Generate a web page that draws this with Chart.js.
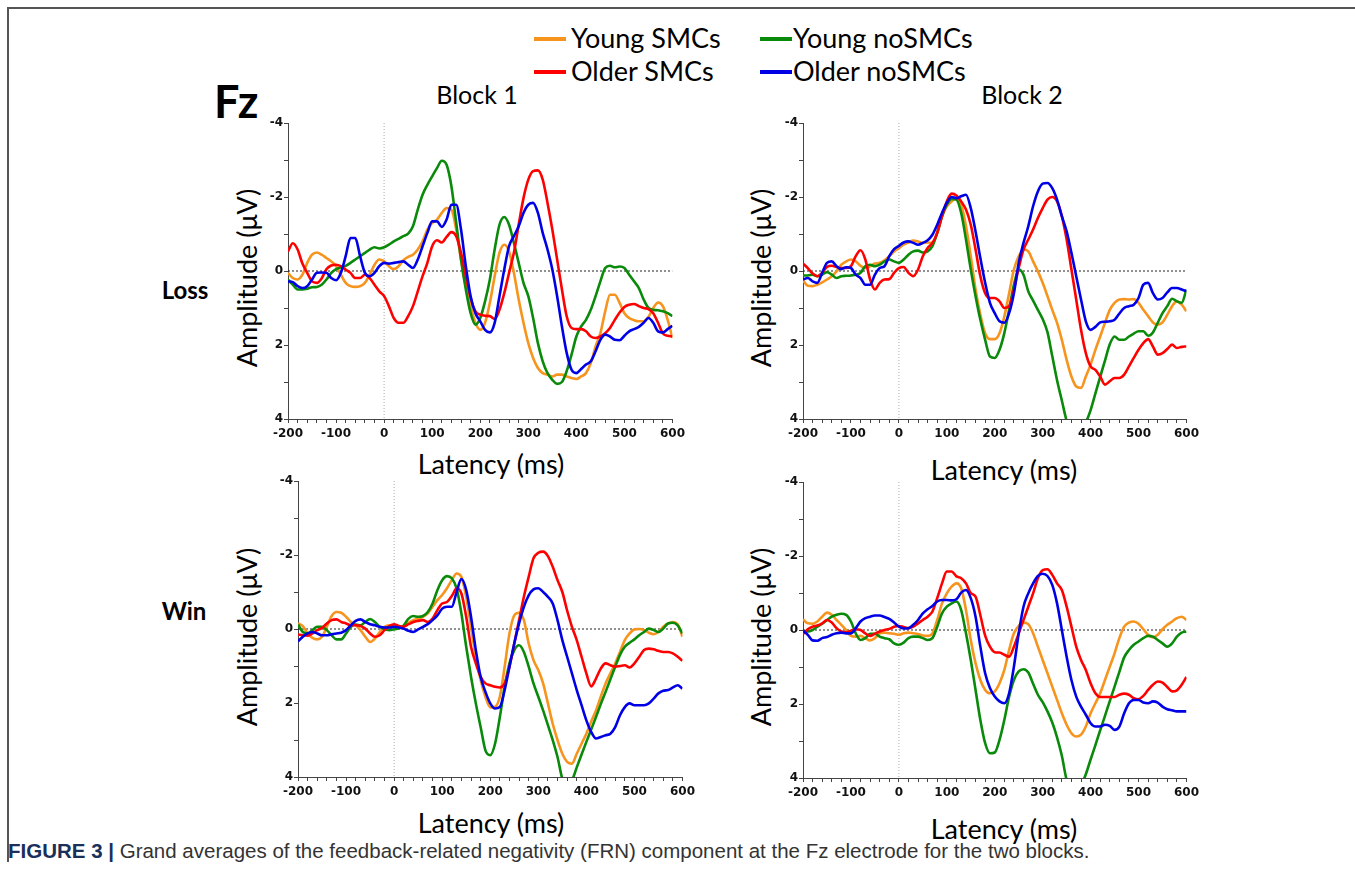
<!DOCTYPE html>
<html><head><meta charset="utf-8">
<script src="https://cdn.jsdelivr.net/npm/chart.js@4.4.1/dist/chart.umd.min.js"></script>
<style>
html,body{margin:0;padding:0;background:#fff;}
body{width:1355px;height:895px;position:relative;overflow:hidden;font-family:Lato,"Open Sans",sans-serif;color:#000;}
.t{position:absolute;white-space:nowrap;line-height:1;transform:translate(-50%,-50%);}
.l{position:absolute;white-space:nowrap;line-height:1;transform:translate(0,-50%);}
.rot{position:absolute;white-space:nowrap;line-height:1;transform:translate(-50%,-50%) rotate(-90deg);font-size:27px;}
.lat{font-size:27px;}
.sw{position:absolute;height:4px;width:32px;}
canvas{position:absolute;}
#frameL{position:absolute;left:7px;top:7px;width:2px;height:855px;background:#555;}
#frameT{position:absolute;left:7px;top:7px;width:1348px;height:2px;background:#555;}
#cap{position:absolute;left:8px;top:851px;transform:translate(0,-50%);font-family:"Liberation Sans Narrow","Liberation Sans",sans-serif;font-size:20.5px;color:#333;white-space:nowrap;line-height:1;}
#cap b{color:#1a2f5a;}
</style></head>
<body>
<div id="frameL"></div><div id="frameT"></div>

<div class="sw" style="left:534px;top:37px;background:#F7941D"></div>
<div class="l" style="left:571px;top:37px;font-size:27px">Young SMCs</div>
<div class="sw" style="left:760px;top:37px;background:#0A8A0A"></div>
<div class="l" style="left:793px;top:37px;font-size:27px">Young noSMCs</div>
<div class="sw" style="left:534px;top:70px;background:#FF0000"></div>
<div class="l" style="left:571px;top:70px;font-size:27px">Older SMCs</div>
<div class="sw" style="left:760px;top:70px;background:#0000E6"></div>
<div class="l" style="left:793px;top:70px;font-size:27px">Older noSMCs</div>

<div class="l" style="left:214px;top:101px;font-size:45px;font-weight:bold">Fz</div>
<div class="t" style="left:477px;top:94px;font-size:25px">Block 1</div>
<div class="t" style="left:1022px;top:94px;font-size:25px">Block 2</div>
<div class="t" style="left:185px;top:290px;font-size:24px;font-weight:bold">Loss</div>
<div class="t" style="left:184px;top:611px;font-size:24px;font-weight:bold">Win</div>

<div class="rot" style="left:246px;top:278px">Amplitude (μV)</div>
<div class="rot" style="left:760px;top:278px">Amplitude (μV)</div>
<div class="rot" style="left:246px;top:637px">Amplitude (μV)</div>
<div class="rot" style="left:760px;top:637px">Amplitude (μV)</div>
<div class="t lat" style="left:491px;top:463px">Latency (ms)</div>
<div class="t lat" style="left:1004px;top:469px">Latency (ms)</div>
<div class="t lat" style="left:491px;top:822px">Latency (ms)</div>
<div class="t lat" style="left:1004px;top:828px">Latency (ms)</div>

<div id="cap"><b>FIGURE 3 |</b> Grand averages of the feedback-related negativity (FRN) component at the Fz electrode for the two blocks.</div>

<canvas id="c1" width="446" height="330" style="left:243px;top:113px"></canvas>
<canvas id="c2" width="445" height="330" style="left:758px;top:113px"></canvas>
<canvas id="c3" width="446" height="330" style="left:253px;top:471px"></canvas>
<canvas id="c4" width="445" height="330" style="left:758px;top:472px"></canvas>

<script>
// ---- data ----
const latency = [-200,-190,-180,-170,-160,-150,-140,-130,-120,-110,
 -100,-90,-80,-70,-60,-50,-40,-30,-20,-10,
 0,10,20,30,40,50,60,70,80,90,
 100,110,120,130,140,150,160,170,180,190,
 200,210,220,230,240,250,260,270,280,290,
 300,310,320,330,340,350,360,370,380,390,
 400,410,420,430,440,450,460,470,480,490,
 500,510,520,530,540,550,560,570,580,590,
 600];
const seriesNames = ["Young SMCs","Older SMCs","Young noSMCs","Older noSMCs"];
const yTickLabels = [-4,-2,0,2,4];
const xTickLabels = [-200,-100,0,100,200,300,400,500,600];

// Loss, Block 1
const lossB1Young = [0.05,0.19,0.23,0.1,-0.22,-0.44,-0.5,-0.44,-0.35,-0.26,
 -0.13,0.1,0.32,0.41,0.43,0.41,0.32,0.1,-0.17,-0.31,
 -0.26,-0.13,-0.05,-0.13,-0.29,-0.38,-0.44,-0.58,-0.8,-1.12,
 -1.3,-1.39,-1.57,-1.7,-1.66,-1.12,-0.31,0.41,0.95,1.4,
 1.59,1.4,0.86,0.14,-0.49,-0.71,-0.53,0.05,0.77,1.4,
 1.95,2.35,2.62,2.76,2.8,2.85,2.8,2.8,2.85,2.89,
 2.92,2.85,2.76,2.49,2.04,1.68,1.09,0.64,0.64,0.86,
 1.14,1.27,1.33,1.36,1.36,1.24,1.0,0.85,0.95,1.32,
 1.81];
const lossB1Older = [-0.53,-0.75,-0.58,-0.2,0.05,0.28,0.32,0.2,-0.05,-0.15,
 -0.17,-0.13,-0.04,0.05,0.19,0.19,0.1,0.19,0.37,0.55,
 0.68,0.95,1.27,1.4,1.4,1.22,0.95,0.55,0.14,-0.22,
 -0.67,-0.83,-0.77,-0.92,-1.05,-0.94,-0.49,0.14,0.73,1.09,
 1.18,1.21,1.22,1.3,1.05,0.6,0.05,-0.49,-1.25,-1.97,
 -2.47,-2.7,-2.72,-2.47,-1.84,-1.12,-0.31,0.5,1.23,1.54,
 1.57,1.57,1.63,1.77,1.81,1.77,1.68,1.54,1.32,1.12,
 0.97,0.91,0.89,0.95,1.0,1.03,1.14,1.4,1.69,1.75,
 1.77];
const lossB1YoungNo = [0.23,0.37,0.5,0.5,0.48,0.44,0.43,0.37,0.23,0.05,
 -0.05,-0.1,-0.14,-0.22,-0.31,-0.4,-0.49,-0.58,-0.64,-0.61,
 -0.64,-0.71,-0.8,-0.87,-0.94,-1.01,-1.21,-1.66,-2.06,-2.33,
 -2.56,-2.78,-2.98,-2.87,-2.29,-1.3,-0.31,0.5,1.14,1.45,
 1.27,0.82,0.23,-0.58,-1.25,-1.46,-1.25,-0.76,-0.22,0.32,
 0.68,1.27,1.95,2.44,2.76,2.94,3.05,3.0,2.7,2.26,
 1.77,1.5,1.32,1.05,0.68,0.28,-0.08,-0.14,-0.1,-0.12,
 -0.08,0.1,0.28,0.46,0.77,1.0,1.05,1.06,1.09,1.14,
 1.22];
const lossB1OlderNo = [0.28,0.3,0.41,0.46,0.41,0.23,0.05,0.04,0.05,0.19,
 0.25,0.05,-0.4,-0.89,-0.89,-0.4,0.05,0.14,0.05,-0.13,
 -0.22,-0.2,-0.22,-0.24,-0.26,-0.17,-0.08,-0.31,-0.67,-1.03,
 -1.34,-1.34,-1.19,-1.39,-1.79,-1.79,-1.12,-0.13,0.68,1.14,
 1.36,1.59,1.66,1.4,0.68,-0.04,-0.67,-0.94,-1.21,-1.57,
 -1.79,-1.84,-1.57,-1.03,-0.58,-0.04,0.68,1.5,2.22,2.67,
 2.76,2.65,2.53,2.44,2.17,1.86,1.72,1.77,1.86,1.87,
 1.75,1.63,1.57,1.51,1.4,1.27,1.4,1.63,1.66,1.57,
 1.48];

// Loss, Block 2
const lossB2Young = [0.25,0.4,0.41,0.37,0.31,0.23,0.14,0.01,-0.17,-0.26,
 -0.31,-0.26,-0.14,-0.08,-0.13,-0.2,-0.22,-0.29,-0.4,-0.53,
 -0.62,-0.71,-0.77,-0.82,-0.8,-0.76,-0.77,-0.76,-1.03,-1.48,
 -1.75,-1.88,-1.97,-1.79,-1.21,-0.4,0.5,1.18,1.68,1.84,
 1.84,1.68,1.23,0.6,-0.04,-0.4,-0.58,-0.53,-0.26,0.01,
 0.32,0.68,1.05,1.4,1.86,2.4,2.85,3.12,3.16,2.85,
 2.53,2.13,1.77,1.4,1.05,0.86,0.77,0.76,0.77,0.76,
 0.86,1.05,1.22,1.39,1.45,1.39,1.18,0.95,0.82,0.91,
 1.09];
const lossB2Older = [-0.2,-0.08,0.07,0.14,0.05,-0.11,-0.14,-0.11,-0.08,-0.08,
 -0.13,-0.4,-0.56,-0.31,0.23,0.5,0.32,0.23,0.22,0.05,
 -0.08,-0.11,0.05,0.14,-0.04,-0.4,-0.62,-0.76,-1.03,-1.48,
 -1.88,-2.09,-2.04,-1.88,-1.66,-1.25,-0.58,0.14,0.6,0.73,
 0.73,0.82,1.0,0.95,0.5,-0.08,-0.58,-0.85,-1.12,-1.43,
 -1.7,-1.93,-2.0,-1.88,-1.48,-0.85,-0.04,0.77,1.59,2.22,
 2.58,2.67,2.85,3.07,2.98,2.89,2.89,2.8,2.58,2.35,
 2.13,1.95,1.84,2.04,2.26,2.22,2.11,1.99,2.08,2.05,
 2.04];
const lossB2YoungNo = [0.12,0.12,0.1,0.14,0.1,0.03,0.1,0.19,0.14,0.13,
 0.12,0.1,0.05,-0.13,-0.17,-0.13,-0.17,-0.26,-0.31,-0.26,
 -0.22,-0.31,-0.44,-0.53,-0.55,-0.5,-0.53,-0.67,-1.03,-1.48,
 -1.79,-1.95,-1.93,-1.57,-0.85,-0.04,0.68,1.32,1.86,2.31,
 2.35,2.13,1.68,1.05,0.37,-0.04,0.1,0.55,0.8,1.05,
 1.3,1.65,2.3,2.95,3.5,4.05,4.35,4.45,4.35,4.1,
 3.76,3.31,2.86,2.42,1.98,1.77,1.86,1.86,1.77,1.69,
 1.63,1.63,1.75,1.66,1.4,1.14,0.95,0.75,0.82,0.86,
 0.5];
const lossB2OlderNo = [0.23,0.19,0.28,0.32,0.05,-0.22,-0.26,-0.13,-0.05,-0.1,
 -0.08,0.1,0.19,0.37,0.37,0.1,-0.08,-0.13,-0.4,-0.59,
 -0.68,-0.77,-0.8,-0.76,-0.71,-0.76,-0.83,-0.98,-1.25,-1.57,
 -1.84,-2.0,-1.97,-2.02,-2.06,-1.7,-1.07,-0.35,0.32,0.86,
 1.14,1.36,1.4,1.14,0.6,-0.22,-0.76,-1.21,-1.75,-2.15,
 -2.36,-2.38,-2.24,-1.93,-1.48,-1.07,-0.49,0.14,0.77,1.36,
 1.59,1.51,1.39,1.37,1.36,1.32,1.15,1.0,0.95,0.91,
 0.73,0.37,0.32,0.6,0.77,0.73,0.58,0.46,0.46,0.5,
 0.55];

// Win, Block 1
const winB1Young = [-0.15,-0.08,0.12,0.24,0.28,0.21,-0.06,-0.35,-0.46,-0.44,
 -0.33,-0.19,-0.1,0.03,0.21,0.35,0.26,0.08,-0.06,-0.1,
 -0.08,-0.04,-0.06,-0.17,-0.24,-0.28,-0.33,-0.42,-0.6,-0.78,
 -0.92,-1.1,-1.32,-1.5,-1.41,-0.87,-0.06,0.75,1.38,1.83,
 2.12,2.1,1.83,1.02,0.12,-0.37,-0.44,-0.24,0.39,0.84,
 1.11,1.47,2.01,2.56,3.0,3.37,3.59,3.64,3.37,3.1,
 2.83,2.5,2.2,1.83,1.47,1.2,0.93,0.62,0.3,0.12,
 0.01,0.0,0.03,0.1,0.14,0.08,-0.06,-0.15,-0.19,-0.13,
 0.21];
const winB1Older = [0.15,0.17,0.18,0.12,0.03,-0.03,-0.15,-0.24,-0.26,-0.19,
 -0.15,-0.1,-0.1,-0.08,-0.01,0.12,0.21,0.17,0.03,-0.08,
 -0.13,-0.08,-0.06,-0.13,-0.19,-0.22,-0.24,-0.19,-0.28,-0.51,
 -0.69,-0.73,-0.89,-1.1,-0.96,-0.33,0.48,0.93,1.29,1.47,
 1.52,1.56,1.58,1.47,1.02,0.39,-0.24,-0.87,-1.41,-1.91,
 -2.06,-2.09,-1.97,-1.68,-1.32,-1.0,-0.5,-0.06,0.3,0.75,
 1.2,1.55,1.34,1.07,0.93,0.98,1.02,1.0,0.98,1.04,
 0.93,0.75,0.57,0.53,0.55,0.59,0.62,0.62,0.66,0.75,
 0.86];
const winB1YoungNo = [-0.12,0.08,0.12,0.03,-0.06,-0.06,0.03,0.17,0.28,0.28,
 0.12,-0.06,-0.12,-0.1,-0.19,-0.27,-0.19,-0.06,0.01,0.03,
 0.01,-0.02,-0.1,-0.28,-0.35,-0.33,-0.35,-0.46,-0.69,-1.05,
 -1.32,-1.43,-1.37,-1.1,-0.42,0.48,1.29,2.01,2.65,3.28,
 3.41,3.1,2.38,1.56,0.93,0.57,0.44,0.62,1.02,1.47,
 1.83,2.2,2.6,3.0,3.46,4.05,4.3,4.1,3.74,3.39,
 3.05,2.72,2.38,2.03,1.7,1.36,1.02,0.7,0.48,0.37,
 0.28,0.17,0.08,-0.01,0.03,0.08,-0.01,-0.15,-0.17,-0.1,
 0.12];
const winB1OlderNo = [0.33,0.21,0.12,0.08,0.12,0.17,0.17,0.14,0.12,0.1,
 0.03,-0.1,-0.22,-0.26,-0.19,-0.13,-0.1,-0.06,-0.04,-0.04,
 -0.06,-0.04,-0.01,0.05,0.08,0.01,-0.06,-0.13,-0.24,-0.37,
 -0.55,-0.6,-0.6,-1.0,-1.35,-1.05,-0.33,0.57,1.29,1.7,
 2.01,2.15,2.11,1.65,1.02,0.39,-0.15,-0.6,-0.91,-1.07,
 -1.1,-1.0,-0.87,-0.69,-0.24,0.3,0.75,1.2,1.65,2.06,
 2.47,2.78,2.96,2.92,2.87,2.83,2.65,2.33,2.11,2.01,
 2.06,2.06,2.06,2.01,1.88,1.74,1.67,1.65,1.58,1.52,
 1.61];

// Win, Block 2
const winB2Young = [-0.29,-0.18,-0.17,-0.23,-0.36,-0.47,-0.41,-0.27,-0.14,0.0,
 0.16,0.18,0.16,0.22,0.28,0.22,0.09,0.07,0.09,0.1,
 0.13,0.09,0.07,0.09,0.11,0.15,0.16,0.09,-0.27,-0.72,
 -0.99,-1.17,-1.26,-1.13,-0.54,0.27,0.9,1.35,1.62,1.71,
 1.66,1.44,1.08,0.54,0.09,-0.11,-0.2,-0.16,0.09,0.45,
 0.81,1.17,1.53,1.89,2.25,2.56,2.79,2.88,2.83,2.61,
 2.25,1.98,1.71,1.35,0.99,0.63,0.22,-0.09,-0.2,-0.23,
 -0.17,-0.02,0.13,0.2,0.13,-0.02,-0.14,-0.23,-0.32,-0.36,
 -0.27];
const winB2Older = [0.11,-0.02,-0.09,-0.12,-0.18,-0.27,-0.2,-0.05,0.04,0.06,
 0.02,-0.02,0.0,0.09,0.16,0.1,0.04,0.0,-0.03,-0.09,
 -0.11,-0.08,-0.05,-0.09,-0.18,-0.27,-0.36,-0.5,-0.86,-1.26,
 -1.58,-1.58,-1.45,-1.4,-1.26,-1.0,-0.9,-0.4,0.15,0.45,
 0.6,0.61,0.67,0.72,0.45,0.09,-0.27,-0.63,-0.99,-1.4,
 -1.62,-1.64,-1.49,-1.26,-1.08,-0.63,-0.09,0.45,0.81,1.08,
 1.44,1.71,1.81,1.81,1.81,1.81,1.75,1.72,1.75,1.84,
 1.87,1.78,1.62,1.48,1.39,1.42,1.54,1.66,1.63,1.48,
 1.27];
const winB2YoungNo = [0.04,0.04,0.0,-0.09,-0.17,-0.27,-0.36,-0.41,-0.44,-0.41,
 -0.23,0.09,0.27,0.22,0.1,0.1,0.18,0.22,0.25,0.36,
 0.4,0.34,0.22,0.18,0.18,0.22,0.27,0.22,-0.09,-0.45,
 -0.63,-0.72,-0.77,-0.54,0.09,0.81,1.62,2.43,3.06,3.33,
 3.31,2.97,2.43,1.8,1.35,1.12,1.06,1.15,1.45,1.75,
 1.95,2.2,2.5,2.9,3.4,4.05,4.3,4.35,4.2,3.9,
 3.5,3.11,2.71,2.32,1.92,1.53,1.13,0.74,0.54,0.4,
 0.31,0.22,0.16,0.18,0.27,0.36,0.45,0.36,0.18,0.07,
 0.04];
const winB2OlderNo = [0.02,0.13,0.28,0.29,0.22,0.19,0.13,0.09,0.07,0.09,
 0.09,-0.05,-0.23,-0.32,-0.36,-0.39,-0.39,-0.35,-0.3,-0.2,
 -0.09,-0.04,-0.05,-0.14,-0.27,-0.45,-0.56,-0.65,-0.77,-0.81,
 -0.81,-0.8,-0.83,-1.01,-1.08,-0.86,-0.36,0.45,1.17,1.57,
 1.8,1.93,1.98,1.71,0.99,0.09,-0.63,-0.99,-1.26,-1.46,
 -1.52,-1.46,-1.22,-0.72,0.0,0.72,1.35,1.8,2.07,2.29,
 2.52,2.61,2.61,2.56,2.59,2.7,2.61,2.25,1.98,1.89,
 1.89,1.96,1.98,1.93,1.96,2.07,2.14,2.17,2.2,2.2,
 2.2];

const colors = ["#F7941D","#FF0000","#0A8A0A","#0000E6"];

function pts(arr){ return latency.map((t,i)=>({x:t,y:arr[i]})); }

function makeChart(id, series){
  const ds = [
    {data:[{x:latency[0],y:0},{x:latency[latency.length-1],y:0}],borderColor:"#222",borderWidth:1,borderDash:[2,2],pointRadius:0,tension:0,order:10},
    {data:[{x:0,y:-4},{x:0,y:4}],borderColor:"#aaa",borderWidth:1,borderDash:[1,2],pointRadius:0,tension:0,order:11}
  ];
  const drawOrder=[0,2,1,3];
  series.forEach((s,i)=>{
    ds.push({label:seriesNames[i],data:pts(s),borderColor:colors[i],borderWidth:2.6,pointRadius:0,
      cubicInterpolationMode:"monotone",fill:false,order:4-drawOrder.indexOf(i)});
  });
  return new Chart(document.getElementById(id),{
    type:"line",
    data:{datasets:ds},
    options:{
      responsive:false,animation:false,
      layout:{padding:{top:10,right:14,left:0,bottom:0}},
      plugins:{legend:{display:false},tooltip:{enabled:false}},
      scales:{
        x:{type:"linear",min:-200,max:600,
          afterFit:(s)=>{s.height=24;},
          border:{display:true,color:"#444",width:1},
          grid:{display:true,drawOnChartArea:false,drawTicks:true,tickLength:4,color:"#444"},
          ticks:{stepSize:20,autoSkip:false,maxRotation:0,padding:4,color:"#111",
            font:{family:"DejaVu Sans",size:12,weight:"bold"},
            callback:(v)=>xTickLabels.includes(v)?String(v):""}},
        y:{type:"linear",min:-4,max:4,reverse:true,
          afterFit:(s)=>{s.width=45;},
          border:{display:true,color:"#444",width:1},
          grid:{display:true,drawOnChartArea:false,drawTicks:true,tickLength:4,color:"#444"},
          ticks:{stepSize:1,autoSkip:false,padding:1,color:"#111",
            font:{family:"DejaVu Sans",size:12,weight:"bold"},
            callback:(v)=>yTickLabels.includes(v)?String(v):""}}
      }
    }
  });
}

makeChart("c1",[lossB1Young,lossB1Older,lossB1YoungNo,lossB1OlderNo]);
makeChart("c2",[lossB2Young,lossB2Older,lossB2YoungNo,lossB2OlderNo]);
makeChart("c3",[winB1Young,winB1Older,winB1YoungNo,winB1OlderNo]);
makeChart("c4",[winB2Young,winB2Older,winB2YoungNo,winB2OlderNo]);
</script>
</body></html>
